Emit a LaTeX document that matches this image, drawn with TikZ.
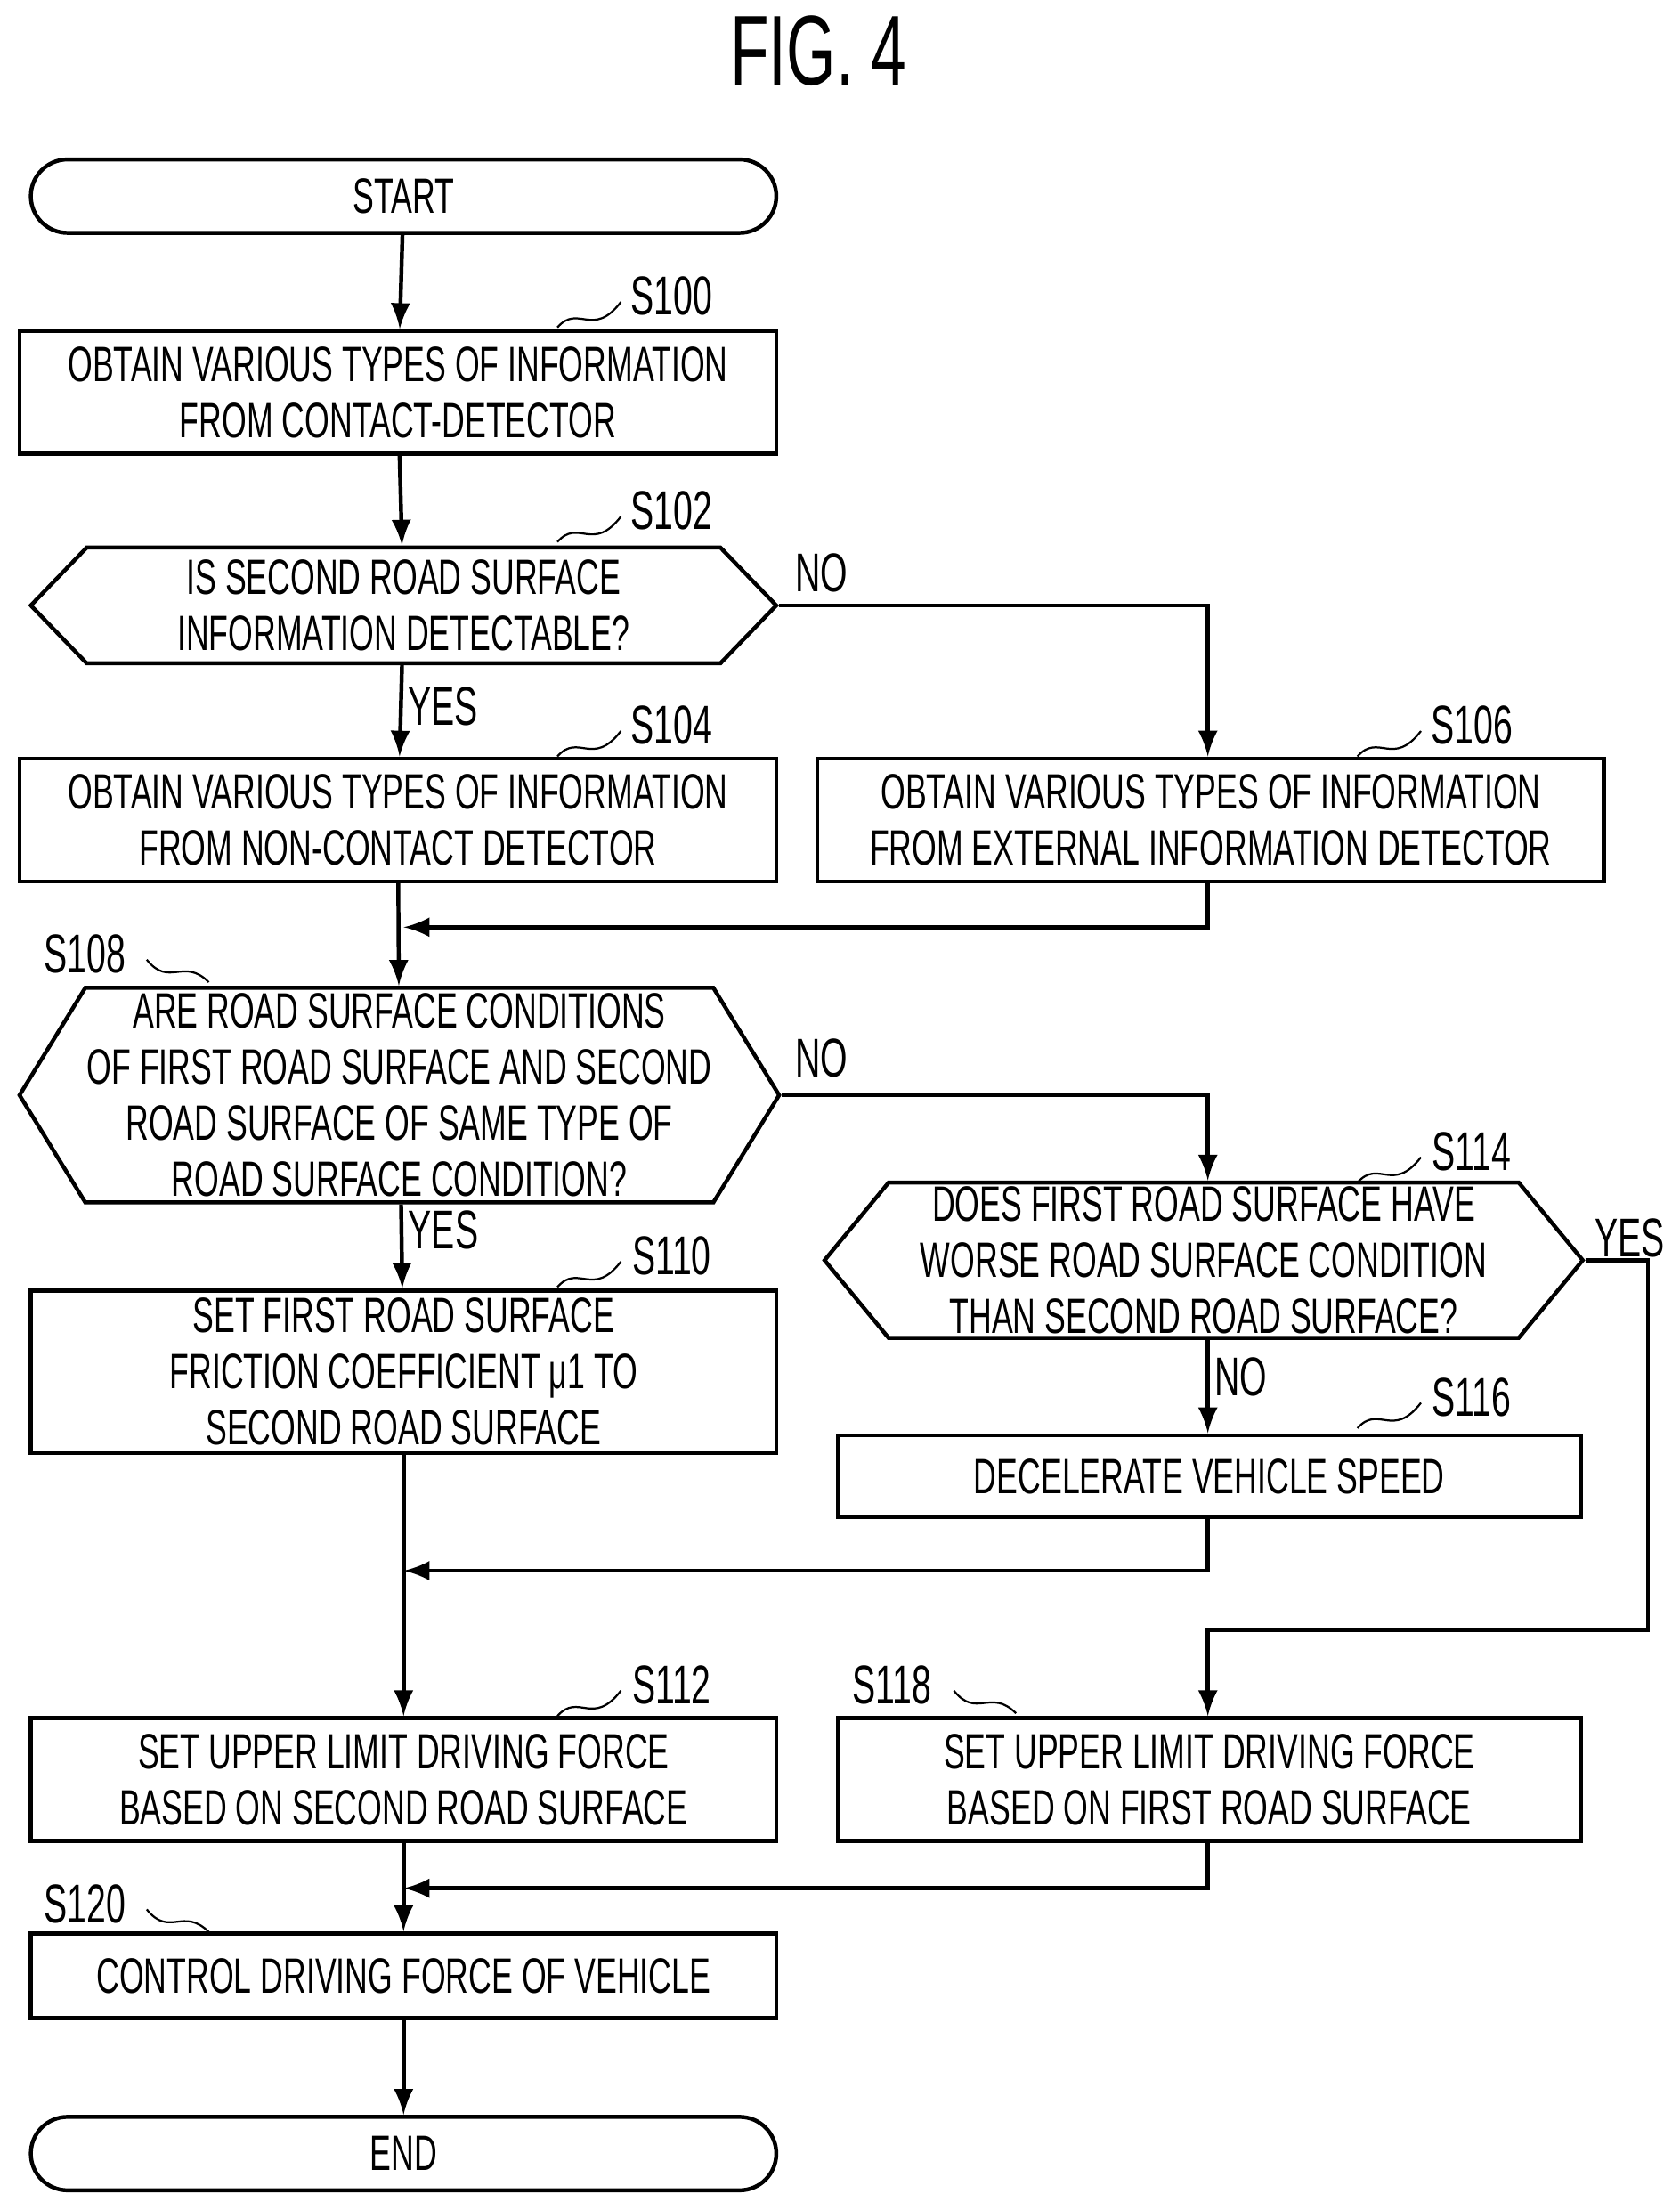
\documentclass[tikz,border=0pt]{standalone}
\usepackage{fontspec}
\setmainfont{Liberation Sans}[FakeStretch=0.64]
\usetikzlibrary{arrows,calc,positioning,shapes.symbols}
\begin{document}
\begin{tikzpicture}[
    x=0.01cm, y=-0.01cm,
    font=\fontsize{10}{11.3}\selectfont,
    box/.style={draw, thick, rectangle, align=center, inner sep=0},
    term/.style={draw, thick, rounded corners=0.26cm, inner sep=0, minimum width=5.28cm, minimum height=0.52cm},
    hex/.style={draw, thick, signal, signal to=east and west, align=center, inner sep=0},
    flow/.style={thick, -latex},
    tag/.style={inner sep=1pt, font=\fontsize{11}{12}\selectfont},
    wave/.style={thin}]
\useasboundingbox (0,0) rectangle (1190,1566);

\node (title) at (580,36) {\fontsize{20}{22}\selectfont FIG. 4};

% left column
\node[term] (start) at (286,139) {START};
\node[box, minimum width=5.36cm, minimum height=0.87cm] (s100) at (282,278) {OBTAIN VARIOUS TYPES OF INFORMATION\\FROM CONTACT-DETECTOR};
\node[hex, minimum width=5.28cm, minimum height=0.82cm, signal pointer angle=92] (s102) at (286,429) {IS SECOND ROAD SURFACE\\INFORMATION DETECTABLE?};
\node[box, minimum width=5.36cm, minimum height=0.87cm] (s104) at (282,581) {OBTAIN VARIOUS TYPES OF INFORMATION\\FROM NON-CONTACT DETECTOR};
\node[hex, minimum width=5.38cm, minimum height=1.52cm, signal pointer angle=117] (s108) at (283,776) {ARE ROAD SURFACE CONDITIONS\\OF FIRST ROAD SURFACE AND SECOND\\ROAD SURFACE OF SAME TYPE OF\\ROAD SURFACE CONDITION?};
\node[box, minimum width=5.28cm, minimum height=1.15cm] (s110) at (286,972) {SET FIRST ROAD SURFACE\\FRICTION COEFFICIENT μ1 TO\\SECOND ROAD SURFACE};
\node[box, minimum width=5.28cm, minimum height=0.87cm] (s112) at (286,1261) {SET UPPER LIMIT DRIVING FORCE\\BASED ON SECOND ROAD SURFACE};
\node[box, minimum width=5.28cm, minimum height=0.60cm] (s120) at (286,1400) {CONTROL DRIVING FORCE OF VEHICLE};
\node[term] (end) at (286,1526) {END};

% right column
\node[box, minimum width=5.57cm, minimum height=0.87cm] (s106) at (858,581) {OBTAIN VARIOUS TYPES OF INFORMATION\\FROM EXTERNAL INFORMATION DETECTOR};
\node[hex, minimum width=5.37cm, minimum height=1.10cm, signal pointer angle=101] (s114) at (853,893) {DOES FIRST ROAD SURFACE HAVE\\WORSE ROAD SURFACE CONDITION\\THAN SECOND ROAD SURFACE?};
\node[box, minimum width=5.26cm, minimum height=0.58cm] (s116) at (857,1046) {DECELERATE VEHICLE SPEED};
\node[box, minimum width=5.26cm, minimum height=0.87cm] (s118) at (857,1261) {SET UPPER LIMIT DRIVING FORCE\\BASED ON FIRST ROAD SURFACE};

% joins
\coordinate (j1) at (286,657);
\coordinate (j2) at (286,1113);
\coordinate (j3) at (286,1338);

\draw[flow] (start) -- (s100);
\draw[flow] (s100) -- (s102);
\draw[flow] (s102) -- node[tag, right, pos=0.45] {YES} (s104);
\draw[flow] (s102.east) -- (856,429) -- (s106.north -| 856,0);
\draw[flow] (s104) -- (s108);
\draw[flow] (s106.south -| 856,0) |- (j1);
\draw[flow] (s108) -- node[tag, right, pos=0.3] {YES} (s110);
\draw[flow] (s108.east) -- (856,776) -- (s114.north -| 856,0);
\draw[flow] (s114.south -| 856,0) -- node[tag, right, pos=0.4] {NO} (s116.north -| 856,0);
\draw[flow] (s116.south -| 856,0) |- (j2);
\draw[flow] (s110) -- (s112);
\draw[flow] (s114.east) -- (1168,893) -- (1168,1155) -- (856,1155) -- (s118.north -| 856,0);
\draw[flow] (s112) -- (s120);
\draw[flow] (s118.south -| 856,0) |- (j3);
\draw[flow] (s120) -- (end);

% branch labels
\node[tag] (no1) at (582,406) {NO};
\node[tag] (no2) at (582,750) {NO};
\node[tag] (yes3) at (1155,877) {YES};

% step labels
\node[tag] (l100) at (476,210) {S100};
\draw[wave] (395,232) .. controls (410,215) and (420,240) .. (440,214);
\node[tag] (l102) at (476,362) {S102};
\draw[wave] (395,384) .. controls (410,367) and (420,392) .. (440,366);
\node[tag] (l104) at (476,514) {S104};
\draw[wave] (395,536) .. controls (410,519) and (420,544) .. (440,518);
\node[tag] (l106) at (1043,514) {S106};
\draw[wave] (962,536) .. controls (977,519) and (987,544) .. (1007,518);
\node[tag] (l108) at (60,676) {S108};
\draw[wave] (104,680) .. controls (120,700) and (130,678) .. (148,696);
\node[tag] (l110) at (476,890) {S110};
\draw[wave] (395,912) .. controls (410,895) and (420,920) .. (440,894);
\node[tag] (l114) at (1043,816) {S114};
\draw[wave] (962,838) .. controls (977,821) and (987,846) .. (1007,820);
\node[tag] (l116) at (1043,990) {S116};
\draw[wave] (962,1012) .. controls (977,995) and (987,1020) .. (1007,994);
\node[tag] (l112) at (476,1194) {S112};
\draw[wave] (395,1216) .. controls (410,1199) and (420,1224) .. (440,1198);
\node[tag] (l118) at (632,1194) {S118};
\draw[wave] (676,1198) .. controls (692,1218) and (702,1196) .. (720,1214);
\node[tag] (l120) at (60,1349) {S120};
\draw[wave] (104,1353) .. controls (120,1373) and (130,1351) .. (148,1369);
\end{tikzpicture}
\end{document}
